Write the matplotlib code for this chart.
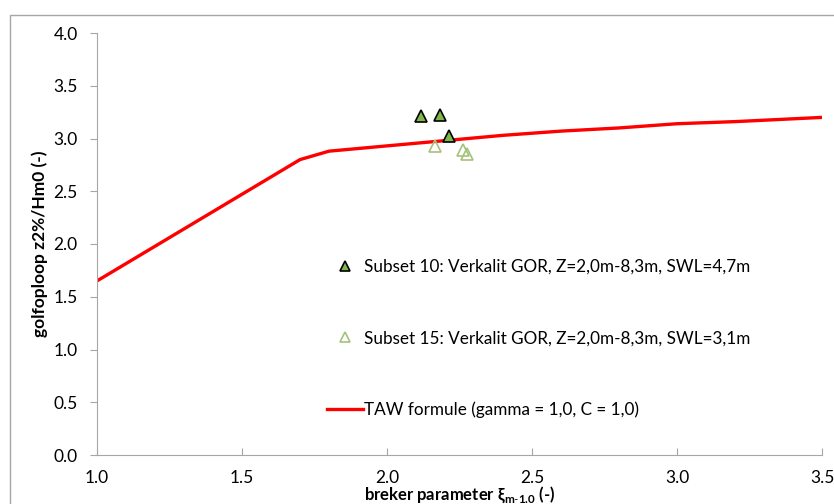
import matplotlib.pyplot as plt
from matplotlib.patches import Rectangle

plt.rcParams['font.family'] = ['Lato', 'DejaVu Sans']
plt.rcParams['mathtext.fontset'] = 'custom'
plt.rcParams['mathtext.rm'] = 'Lato'
plt.rcParams['mathtext.bf'] = 'Lato:bold'

# data
taw_x = [1.0, 1.7, 1.8, 2.0, 2.2, 2.4, 2.6, 2.8, 3.0, 3.2, 3.5]
taw_y = [1.65, 2.80, 2.88, 2.93, 2.98, 3.03, 3.07, 3.10, 3.14, 3.16, 3.20]

s10_x = [2.117, 2.183, 2.214]
s10_y = [3.21, 3.22, 3.02]

s15_x = [2.166, 2.262, 2.276]
s15_y = [2.93, 2.89, 2.85]

lab10 = "Subset 10: Verkalit GOR, Z=2,0m-8,3m, SWL=4,7m"
lab15 = "Subset 15: Verkalit GOR, Z=2,0m-8,3m, SWL=3,1m"
labtaw = "TAW formule (gamma = 1,0, C = 1,0)"

fig = plt.figure(figsize=(8.34, 5.04), dpi=100)
# buitenrand van de grafiek
fig.patches.append(Rectangle((10/834, -0.1), 1.1, 1 - 15/504 + 0.1, transform=fig.transFigure,
                             fill=False, edgecolor='#a6a6a6', linewidth=1))
ax = fig.add_axes([97/834, 1 - 455/504, 725/834, 422/504])

l1, = ax.plot(s10_x, s10_y, linestyle='none', marker='^', markersize=9,
              markerfacecolor='#7fb84a', markeredgecolor='black', markeredgewidth=1.2, zorder=3)
l2, = ax.plot(s15_x, s15_y, linestyle='none', marker='^', markersize=9,
              markerfacecolor='none', markeredgecolor='#a5c27a', markeredgewidth=1.2, zorder=3)
l3, = ax.plot(taw_x, taw_y, color='#ff0000', linewidth=2.4, zorder=2)

ax.set_xlim(1.0, 3.5)
ax.set_ylim(0.0, 4.0)
ax.set_xticks([1.0, 1.5, 2.0, 2.5, 3.0, 3.5])
ax.set_yticks([0.0, 0.5, 1.0, 1.5, 2.0, 2.5, 3.0, 3.5, 4.0])
ax.xaxis.set_major_formatter(plt.FormatStrFormatter('%.1f'))
ax.yaxis.set_major_formatter(plt.FormatStrFormatter('%.1f'))

for s in ['top', 'right']:
    ax.spines[s].set_visible(False)
for s in ['left', 'bottom']:
    ax.spines[s].set_color('#a6a6a6')
ax.tick_params(axis='x', direction='in', length=5, color='#a6a6a6', labelsize=12.5, pad=11)
ax.tick_params(axis='y', direction='out', length=5, color='#a6a6a6', labelsize=12.5, pad=9)

ax.set_ylabel("golfoploop z2%/Hm0 (-)", fontsize=12.5, fontweight='bold', labelpad=4)
ax.set_xlabel(r"breker parameter ξ$_{\mathbf{m\text{-}1.0}}$ (-)", fontsize=12,
              fontweight='bold', labelpad=-1)

ax.legend([l1, l2, l3], [lab10, lab15, labtaw], loc='upper left', bbox_to_anchor=(0.317, 0.465),
          frameon=False, fontsize=12.3, labelspacing=3.25, handlelength=2.1, handletextpad=0.05,
          borderpad=0, borderaxespad=0, markerscale=0.85)

fig.savefig('out.png', dpi=100)
